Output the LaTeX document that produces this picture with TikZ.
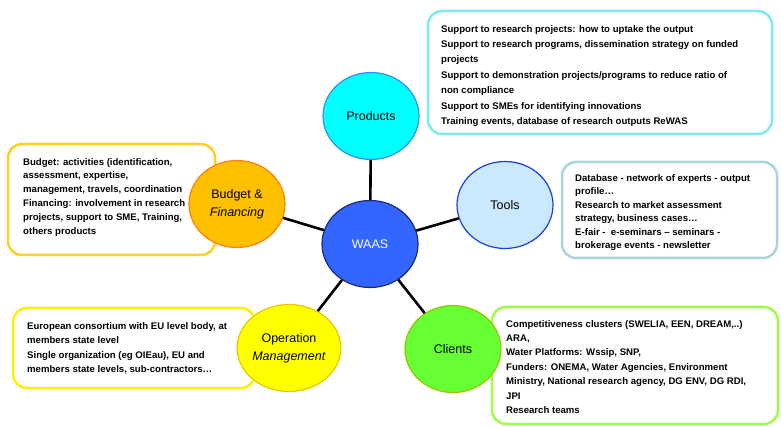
\documentclass[tikz,border=0pt]{standalone}
\usepackage{fontspec}
\setmainfont{Liberation Sans}
\usetikzlibrary{shapes.geometric}

\definecolor{prodFill}{HTML}{00FFFF}
\definecolor{prodLine}{HTML}{3D8BF0}
\definecolor{prodBox}{HTML}{80E9F6}
\definecolor{toolFill}{HTML}{CCE8FF}
\definecolor{toolLine}{HTML}{1A3FD9}
\definecolor{toolBox}{HTML}{AAD4DC}
\definecolor{waasFill}{HTML}{3366FF}
\definecolor{waasLine}{HTML}{1B2A70}
\definecolor{budgFill}{HTML}{FFC000}
\definecolor{budgLine}{HTML}{FF7F10}
\definecolor{budgBox}{HTML}{FFD020}
\definecolor{operFill}{HTML}{FFFF00}
\definecolor{operLine}{HTML}{E8C800}
\definecolor{operBox}{HTML}{FFF000}
\definecolor{clieFill}{HTML}{66FF33}
\definecolor{clieLine}{HTML}{99C400}
\definecolor{clieBox}{HTML}{9CFF45}

\tikzset{
  topic/.style={ellipse, draw, line width=1.2pt, minimum width=96pt,
    minimum height=87pt, inner sep=0pt, align=center,
    font=\fontsize{12.5}{18}\selectfont},
  infoBox/.style={draw, rounded corners=14pt, line width=2.5pt, fill=white},
  infoText/.style={anchor=north west, inner sep=0pt, align=left,
    font=\bfseries\fontsize{9.6}{#1}\selectfont},
  link/.style={line width=2.6pt, black},
}

\begin{document}
\begin{tikzpicture}[x=1pt,y=-1pt]
  \useasboundingbox (0,0) rectangle (781,427);

  % text boxes
  \draw[infoBox, draw=prodBox] (428,11) rectangle (772,134);
  \node[infoText=15.4] (prodText) at (441,25) {Support to research projects: how to uptake the output\\
    Support to research programs, dissemination strategy on funded\\
    projects\\
    Support to demonstration projects/programs to reduce ratio of\\
    non compliance\\
    Support to SMEs for identifying innovations\\
    Training events, database of research outputs ReWAS};

  \draw[infoBox, draw=toolBox] (562,162) rectangle (777,258);
  \node[infoText=13.5] (toolText) at (575,174) {Database - network of experts - output\\
    profile\dots\\
    Research to market assessment\\
    strategy, business cases\dots\\
    E-fair -\ \ e-seminars -- seminars -\\
    brokerage events - newsletter};

  \draw[infoBox, draw=budgBox] (8,144) rectangle (215,255);
  \node[infoText=13.8] (budgText) at (23,158) {Budget: activities (identification,\\
    assessment, expertise,\\
    management, travels, coordination\\
    Financing: involvement in research\\
    projects, support to SME, Training,\\
    others products};

  \draw[infoBox, draw=operBox] (13,308) rectangle (255,388);
  \node[infoText=14.6] (operText) at (27,322) {European consortium with EU level body, at\\
    members state level\\
    Single organization (eg OIEau), EU and\\
    members state levels, sub-contractors\dots};

  \draw[infoBox, draw=clieBox] (492,307) rectangle (778,424);
  \node[infoText=14.4] (clieText) at (506,320) {Competitiveness clusters (SWELIA, EEN, DREAM,..)\\
    ARA,\\
    Water Platforms: Wssip, SNP,\\
    Funders: ONEMA, Water Agencies, Environment\\
    Ministry, National research agency, DG ENV, DG RDI,\\
    JPI\\
    Research teams};

  % topics
  \node[topic, fill=waasFill, draw=waasLine, text=white] (waas) at (370,244) {WAAS};
  \node[topic, fill=prodFill, draw=prodLine] (prod) at (371,116) {Products};
  \node[topic, fill=toolFill, draw=toolLine] (tool) at (505,205) {Tools};
  \node[topic, fill=budgFill, draw=budgLine] (budg) at (237,204) {Budget \&\\\textit{Financing}};
  \node[topic, fill=operFill, draw=operLine] (oper) at (289,348) {Operation\\\textit{Management}};
  \node[topic, fill=clieFill, draw=clieLine] (clie) at (453,349) {Clients};

  % links
  \foreach \t in {prod,tool,budg,oper,clie}
    \draw[link] (waas) -- (\t);
\end{tikzpicture}
\end{document}
